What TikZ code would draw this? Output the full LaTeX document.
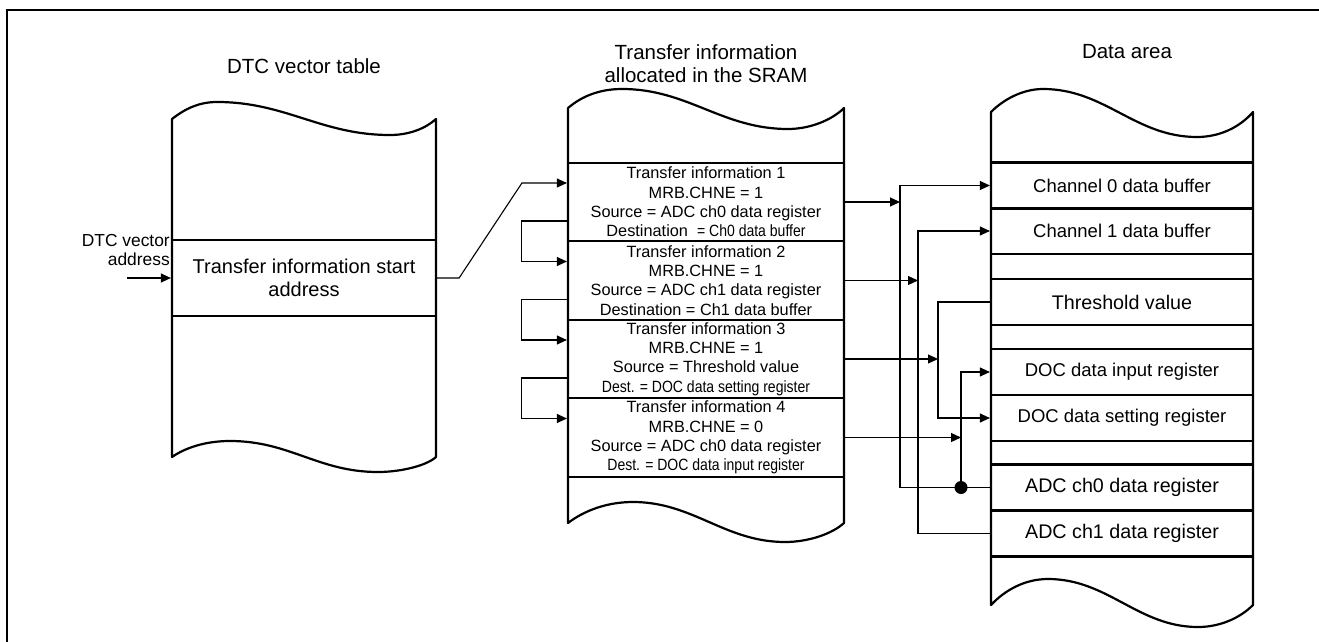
\documentclass[tikz,border=0pt]{standalone}
\usepackage{fontspec}
\setmainfont{Liberation Sans}
\newfontfamily\narrowsf[FakeStretch=0.86]{Liberation Sans}
\usetikzlibrary{arrows.meta}

\begin{document}
\begin{tikzpicture}[x=1pt, y=-1pt, >={Triangle[length=10pt,width=9pt]},
  memtable/.style={line width=2.2pt, line join=round},
  rowbox/.style={draw, line width=2.2pt, inner sep=0pt, align=center},
  midrow/.style={rowbox, minimum width=276, minimum height=78.5, font=\fontsize{16.3}{19.3}\selectfont},
  datarow/.style={rowbox, minimum width=262, minimum height=46, font=\fontsize{18.5}{22}\selectfont},
  bigrow/.style={datarow, font=\fontsize{19.7}{22}\selectfont},
  headtext/.style={align=center, font=\fontsize{20.5}{23}\selectfont},
  wire/.style={line width=1.1pt}]

  \useasboundingbox (0,0) rectangle (1319,642);
  \draw[line width=2.4pt] (7,660) -- (7,10) -- (1340,10);

  \draw[memtable] (172,119) .. controls (186,108) and (200,102) .. (217,102)
    .. controls (286,102) and (321,135) .. (390,135)
    .. controls (410,135) and (426,128) .. (436,119)
    -- (436,457) .. controls (426,466) and (400,472) .. (378,472)
    .. controls (318,472) and (290,441) .. (230,441)
    .. controls (205,441) and (185,448) .. (172,457) -- cycle;
  \draw[memtable] (568,108) .. controls (582,96) and (600,89) .. (622,89)
    .. controls (688,89) and (722,129) .. (788,129)
    .. controls (810,129) and (832,120) .. (844,108)
    -- (844,523) .. controls (832,534) and (808,542) .. (785,542)
    .. controls (725,542) and (693,502) .. (633,502)
    .. controls (608,502) and (585,510) .. (568,523) -- cycle;
  \draw[memtable] (991,112) .. controls (1003,100) and (1022,89) .. (1043,89)
    .. controls (1105,89) and (1135,137) .. (1197,137)
    .. controls (1220,137) and (1240,127) .. (1253,112)
    -- (1253,605) .. controls (1240,618) and (1220,627) .. (1198,627)
    .. controls (1138,627) and (1108,579) .. (1048,579)
    .. controls (1025,579) and (1005,590) .. (991,605) -- cycle;

  \node[headtext] (hvec) at (304,66) {DTC vector table};
  \node[headtext] (hsram) at (706,63.5) {Transfer information\\allocated in the SRAM};
  \node[headtext] (hdata) at (1127,52) {Data area};

  \node[rowbox, minimum width=264, minimum height=76, font=\fontsize{20}{23}\selectfont] (start) at (304,278) {Transfer information start\\address};
  \node[align=right, anchor=east, inner sep=0pt, font=\fontsize{17.4}{19}\selectfont] (vlabel) at (170,250) {DTC vector\\address};

  \node[midrow] (ti1) at (706,202) {Transfer information 1\\MRB.CHNE = 1\\Source = ADC ch0 data register\\Destination\ \ {\narrowsf = Ch0 data buffer}};
  \node[midrow] (ti2) at (706,280.5) {Transfer information 2\\MRB.CHNE = 1\\Source = ADC ch1 data register\\Destination = Ch1 data buffer};
  \node[midrow] (ti3) at (706,359) {Transfer information 3\\MRB.CHNE = 1\\Source = Threshold value\\{\narrowsf Dest. = DOC data setting register}};
  \node[midrow] (ti4) at (706,437.5) {Transfer information 4\\MRB.CHNE = 0\\Source = ADC ch0 data register\\{\narrowsf Dest. = DOC data input register}};

  \node[datarow] (ch0) at (1122,185.5) {Channel 0 data buffer};
  \node[datarow] (ch1) at (1122,231) {Channel 1 data buffer};
  \node[bigrow] (thr) at (1122,302) {Threshold value};
  \node[datarow] (docin) at (1122,372) {DOC data input register};
  \node[datarow] (docset) at (1122,418) {DOC data setting register};
  \node[bigrow] (adc0) at (1122,487.5) {ADC ch0 data register};
  \node[bigrow] (adc1) at (1122,533.5) {ADC ch1 data register};

  \coordinate (vin) at (127,278);
  \coordinate (c0) at (900,0);
  \coordinate (c1) at (918,0);
  \coordinate (c2) at (938,0);
  \coordinate (c3) at (961,0);
  \coordinate (tap) at (adc0.west -| c3);

  \draw[wire,->] (vin) -- (start.west);
  \draw[wire,->] (start.east) -- ++(22,0) -- ([xshift=-45pt,yshift=19pt]ti1.west) -- ([yshift=19pt]ti1.west);
  \foreach \a/\b in {ti1/ti2,ti2/ti3,ti3/ti4}
    \draw[wire,->] ([yshift=-19pt]\a.west) -- ++(-45,0) |- ([yshift=19pt]\b.west);

  \draw[wire,->] (ti1.east) -- (ti1.east -| c0);
  \draw[wire,->] (ti2.east) -- (ti2.east -| c1);
  \draw[wire,->] (ti3.east) -- (ti3.east -| c2);
  \draw[wire,->] (ti4.east) -- (ti4.east -| c3);

  \draw[wire,->] (adc0.west) -- (adc0.west -| c0) |- (ch0.west);
  \draw[wire,->] (adc1.west) -- (adc1.west -| c1) |- (ch1.west);
  \draw[wire,->] (thr.west) -- (thr.west -| c2) |- (docset.west);
  \draw[wire,->] (tap) |- (docin.west);
  \fill (tap) circle (6.5);

\end{tikzpicture}
\end{document}
